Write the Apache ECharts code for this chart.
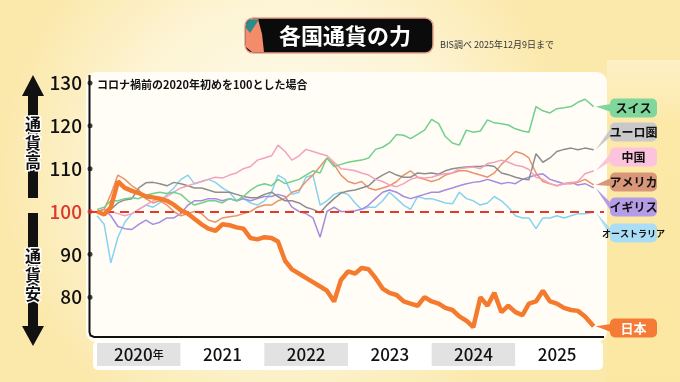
<!DOCTYPE html>
<html><head><meta charset="utf-8">
<script src="https://cdn.jsdelivr.net/npm/echarts@6/dist/echarts.min.js"></script>
<style>html,body{margin:0;padding:0;width:680px;height:382px;overflow:hidden;background:#fdf3d2}#c{width:680px;height:382px}</style>
</head><body><div id="c"></div>
<script>
// ---- data (index values, Jan 2020 = 100; monthly readings, last point 2025-12-09) ----
const years = ['2020','2021','2022','2023','2024','2025'];
const yTicks = [80, 90, 100, 110, 120, 130];
const firstMonth = '2020-01';
const lastDate = '2025-12-09';
const seriesNames = ['スイス','ユーロ圏','中国','アメリカ','イギリス','オーストラリア','日本'];

const swiss = [100.5,101,102.5,102.5,103,103.2,103,103.8,104.2,104.5,104.2,104.5,
  104,102.5,101.5,102,102.5,102.5,102,103,102.5,103.5,105,106,
  106.5,106,107.5,106.5,107,107.5,108.5,109.5,109,112.5,110.5,111,
  111.5,111.8,112,112.5,114.5,115,116,118,117.8,117,118,119,
  121.5,120.5,117.5,116,115.5,119,118.5,118.8,121.4,120.7,120.5,120.2,
  119.3,118.8,118.5,124.5,123.5,123,124,124.2,124.5,125.5,126.2,124.5];
const euro = [100,99.5,100.5,102,102.7,103,105.5,106.7,106.8,106.5,106,106.8,
  106.5,106,105.5,105.5,105,104.5,104.5,104.5,104,103.5,103.2,103.2,
  104,104.5,103.5,102.5,102.5,102,101,100.5,99.7,101.5,103,104.3,
  104.8,105,105.5,106,107.5,108.5,109.3,108.5,108,108,109,108.8,
  109,108.7,109.5,110,110.2,110.4,110.5,110.5,110.8,110.5,109,108.6,
  108,107.6,107.4,113.5,111.5,112.5,114,114.5,114.8,114.4,114.8,114.4];
const china = [100,99.5,100,99.5,99,99.5,100.5,101.5,102.5,103,103.5,104.5,
  105.5,106,106.5,107,107.5,108,107.8,108.5,109,110,110.5,112,
  112.5,113,115.5,114,112,113,114.5,114,113.5,113,111.5,110,
  109.8,109.5,109,108.5,107.5,107,106.2,105.8,106.5,107.5,108,107.8,
  108,108.5,108.8,109,110,110.2,110.4,110,111.2,111.5,112,111.5,
  110.8,110.5,109.8,108,107.5,106.5,106,106.5,106.7,107,108.8,109.5];
const usa = [100,100.5,104,108.5,107.5,106,105,103,102,102.5,101.5,100,
  99,99.5,100,99.5,98,97.5,98.5,98.8,99,99.5,100,101,
  101.5,101.5,102.5,103,104.5,105,107,108.5,110.5,112.5,111,108.5,
  107,106.5,107,105.5,105,105.5,106,107,108.5,109.5,108,107.5,
  107,107.5,108.5,109,109.5,109.5,109,108.5,108,109,111,112.5,
  114,113.5,112.5,109,107,106.5,106,106.5,106.5,106.8,107.5,106.2];
const uk = [100,100.5,99,96.5,96,95.8,97,98,97,97.5,98.5,98.5,
  99.5,101.5,102.5,102.5,103,103,102.5,103,102.5,103,102.5,103,
  103.5,103.5,104,103.5,101,100,99.5,98.5,94,100,101,100,
  100,100.2,100.5,101.5,103,104.5,105,104.5,103.5,103,103.5,104,
  104.5,104.5,105,105.5,106,106.5,106.8,107,107.5,107,106.5,106.8,
  106.5,107.5,108,108.5,108.8,107.5,107,106.5,106.8,106.2,106.5,105.5];
const australia = [99,97,88,94,97.5,99.5,100.5,101.5,101,102,104,105.5,
  107.5,108.5,106.5,107,107.5,106.8,105.5,104.5,102.5,103,102,101.5,
  102.5,104.5,108.5,107.5,104,104.5,108,108.5,101.5,102.5,104,104.5,
  104,102,100.5,101,101,102.5,104.5,103,101.5,100.5,103.5,103,
  103,102.5,102,101.8,104.5,103,102.5,101.5,102,103.5,102.5,101,
  99,98.5,98.5,96,98.5,98.5,99,98.5,99,99.5,99.5,99.8];
const japan = [100,99.3,101,107,105.5,104.8,104.3,103.5,103.3,103,102.5,101.6,
  100.3,99.5,98.3,97,96,95.5,97,96.8,96.3,96,93.8,93.5,
  94,93.8,93,88.5,86.5,85.5,84.5,83.5,82.5,81.5,79,84,
  86,85.5,86.8,86.5,84.5,82,81,80.5,79,78.5,78,80,
  79,78.5,77.5,77,75.5,74.5,73,80,78,81,76.5,78,
  76.5,75.8,78.5,79,81.5,79,78.5,77.5,77,76.8,75.5,73.2];

const allSeries = [swiss, euro, china, usa, uk, australia, japan];

// ---- styles / layout ----
const lineColors = ['#72cf8c','#8d8d8d','#f2a2be','#e9936d','#a68be0','#86d2f2','#f47a2e'];
const boxColors  = ['#7fd79b','#c9c9c9','#fcc4dc','#d9977a','#b59ce6','#a9def6','#f47a35'];
const boxTextColors = ['#111','#111','#111','#111','#111','#111','#fff'];
const boxFont = [12,12,12,12,12,9,13];
const boxCenterY = [108,132,157,182,207,233,328];
const FONT = '"Noto Sans CJK JP","Noto Sans",sans-serif';

function monthDates(n) {
  const [y0, m0] = firstMonth.split('-').map(Number);
  const out = [];
  for (let i = 0; i < n; i++) {
    if (i === n - 1) { out.push(lastDate); break; }
    const t = m0 - 1 + i, y = y0 + Math.floor(t / 12), m = t % 12 + 1;
    out.push(y + '-' + String(m).padStart(2, '0') + '-01');
  }
  return out;
}

const chart = echarts.init(document.getElementById('c'));
const X_MIN = '2019-12-01', X_MAX = '2026-01-23';

const lineSeries = allSeries.map((arr, i) => {
  const d = monthDates(arr.length);
  const isJ = i === 6;
  return {
    type: 'line', name: seriesNames[i], xAxisIndex: 0, yAxisIndex: 0,
    data: arr.map((v, k) => [d[k], v]),
    showSymbol: false, smooth: false, z: isJ ? 5 : 3,
    lineStyle: { color: lineColors[i], width: isJ ? 4.5 : 1.5 },
    itemStyle: { color: lineColors[i] }, silent: true
  };
});

const drawOrder = [5, 4, 3, 1, 2, 0, 6].map(i => lineSeries[i]);

const graphicsStatic = [
  { type: 'rect', id: 'panel', z: -10, shape: { x: 86, y: 72, width: 521, height: 270, r: 10 },
    style: { fill: '#fffdf6' } },
  { type: 'rect', id: 'strip', z: -11, shape: { x: 607, y: 60, width: 73, height: 322 },
    style: { fill: new echarts.graphic.LinearGradient(0, 0, 0, 1, [{ offset: 0, color: '#fdf0c6' }, { offset: 0.2, color: '#fce9a8' }, { offset: 1, color: '#fce7a2' }]) } },
  { type: 'polyline', id: 'axisL', z: 20, shape: { points: [[89.5, 75], [89.5, 332], [90.5, 335.5], [94, 337], [604, 337]] },
    style: { stroke: '#111', lineWidth: 2, fill: null } },
  { type: 'rect', id: 'bandbg', z: -9, shape: { x: 93, y: 341, width: 510, height: 29, r: 5 },
    style: { fill: '#ffffff' } },
  { type: 'rect', id: 'tbox', z: 10, shape: { x: 245, y: 18, width: 188, height: 35, r: 8 },
    style: { fill: '#0b0b0b', stroke: '#e6a28e', lineWidth: 1.5 } },
  { type: 'polygon', id: 'tdeco1', z: 11, shape: { points: [[250, 19], [258, 19], [262, 34], [264, 52], [252, 52], [246, 47], [246, 25]] },
    style: { fill: '#f48b6a' } },
  { type: 'polygon', id: 'tdeco2', z: 12, shape: { points: [[249, 19.5], [259, 19.5], [250, 33], [246, 28], [246, 24]] },
    style: { fill: '#2b8c8a' } },
  { type: 'text', id: 'ttext', z: 13, x: 345, y: 36,
    style: { text: '各国通貨の力', fill: '#fff', font: 'bold 22px ' + FONT, align: 'center', verticalAlign: 'middle' } },
  { type: 'text', id: 'src', z: 13, x: 440, y: 45,
    style: { text: 'BIS調べ 2025年12月9日まで', fill: '#333', font: '9px ' + FONT, align: 'left', verticalAlign: 'middle' } },
  { type: 'text', id: 'sub', z: 13, x: 97, y: 85,
    style: { text: 'コロナ禍前の2020年初めを100とした場合', fill: '#111', font: 'bold 11px ' + FONT, align: 'left', verticalAlign: 'middle' } },
  { type: 'polygon', id: 'arrUp', z: 10, shape: { points: [[33, 75], [44, 96], [38, 96], [38, 198], [28, 198], [28, 96], [22, 96]] },
    style: { fill: '#111' } },
  { type: 'polygon', id: 'arrDn', z: 10, shape: { points: [[28, 213], [38, 213], [38, 326], [44, 326], [33, 346], [22, 326], [28, 326]] },
    style: { fill: '#111' } },
  { type: 'text', id: 'tHigh', z: 11, x: 33, y: 143,
    style: { text: '通\n貨\n高', fill: '#111', stroke: '#fff', lineWidth: 3, font: 'bold 16px ' + FONT, lineHeight: 19, align: 'center', verticalAlign: 'middle' } },
  { type: 'text', id: 'tLow', z: 11, x: 33, y: 275,
    style: { text: '通\n貨\n安', fill: '#111', stroke: '#fff', lineWidth: 3, font: 'bold 16px ' + FONT, lineHeight: 19, align: 'center', verticalAlign: 'middle' } }
];

seriesNames.forEach((nm, i) => {
  graphicsStatic.push({ type: 'rect', id: 'box' + i, z: 15,
    shape: { x: 610, y: boxCenterY[i] - 9.5, width: 47, height: 19, r: 5 }, style: { fill: boxColors[i] } });
  graphicsStatic.push({ type: 'text', id: 'boxt' + i, z: 16, x: 633.5, y: boxCenterY[i] + 0.5,
    style: { text: nm, fill: boxTextColors[i], font: 'bold ' + boxFont[i] + 'px ' + FONT, align: 'center', verticalAlign: 'middle' } });
});

const option = {
  backgroundColor: new echarts.graphic.RadialGradient(0.42, 0.45, 0.75, [
    { offset: 0, color: '#fffdf4' }, { offset: 0.6, color: '#fdf4d4' }, { offset: 1, color: '#fbe8ab' }]),
  animation: false,
  textStyle: { fontFamily: FONT },
  grid: [
    { left: 90, right: 76, top: 83, height: 257 },
    { left: 97, right: 81, top: 343, height: 23 }
  ],
  xAxis: [
    { type: 'time', gridIndex: 0, min: X_MIN, max: X_MAX, show: false },
    { type: 'category', gridIndex: 1, data: years, boundaryGap: true,
      axisLine: { show: false }, axisTick: { show: false, interval: 0 }, splitLine: { show: false },
      splitArea: { show: true, interval: 0, areaStyle: { color: ['#e2e2e2', '#ffffff'] } },
      axisLabel: { inside: true, interval: 0, margin: 3, color: '#111', fontSize: 17, fontWeight: 500,
        formatter: (v, idx) => idx === 0 ? '{y|' + v + '}{n|年}' : '{y|' + v + '}',
        rich: { y: { fontSize: 17, fontWeight: 500, color: '#111' }, n: { fontSize: 11, fontWeight: 500, color: '#111' } } } }
  ],
  yAxis: [
    { type: 'value', gridIndex: 0, min: 70, max: 130, interval: 10,
      axisLine: { show: false }, axisTick: { show: false }, splitLine: { show: false },
      axisLabel: { margin: 8, fontSize: 19, fontWeight: 500, color: '#111', showMinLabel: false,
        formatter: v => v === 100 ? '{r|100}' : String(v), rich: { r: { color: '#e0372b', fontSize: 19, fontWeight: 500 } } } },
    { type: 'value', gridIndex: 1, show: false }
  ],
  graphic: { elements: graphicsStatic },
  series: [
    { type: 'scatter', xAxisIndex: 0, yAxisIndex: 0, clip: false, z: 21, silent: true,
      data: yTicks.map(v => [X_MIN, v]), symbolSize: 5,
      itemStyle: { color: p => p.value[1] === 100 ? '#e0372b' : '#111' },
      markLine: { silent: true, symbol: 'none', label: { show: false }, z: 4,
        lineStyle: { color: '#e3382c', type: [9, 6], width: 2 }, data: [{ yAxis: 100 }] } },
    ...drawOrder,
    { type: 'line', xAxisIndex: 1, yAxisIndex: 1, data: [] }
  ]
};
chart.setOption(option);

const conn = allSeries.map((arr, i) => {
  const d = monthDates(arr.length);
  const p = chart.convertToPixel({ xAxisIndex: 0, yAxisIndex: 0 }, [d[d.length - 1], arr[arr.length - 1]]);
  const cy = boxCenterY[i];
  return { type: 'polygon', id: 'conn' + i, z: 14,
    shape: { points: [[p[0] + 2, p[1]], [611, cy - 4], [611, cy + 4]] }, style: { fill: boxColors[i] } };
});
chart.setOption({ graphic: { elements: conn } });
</script>
</body></html>
